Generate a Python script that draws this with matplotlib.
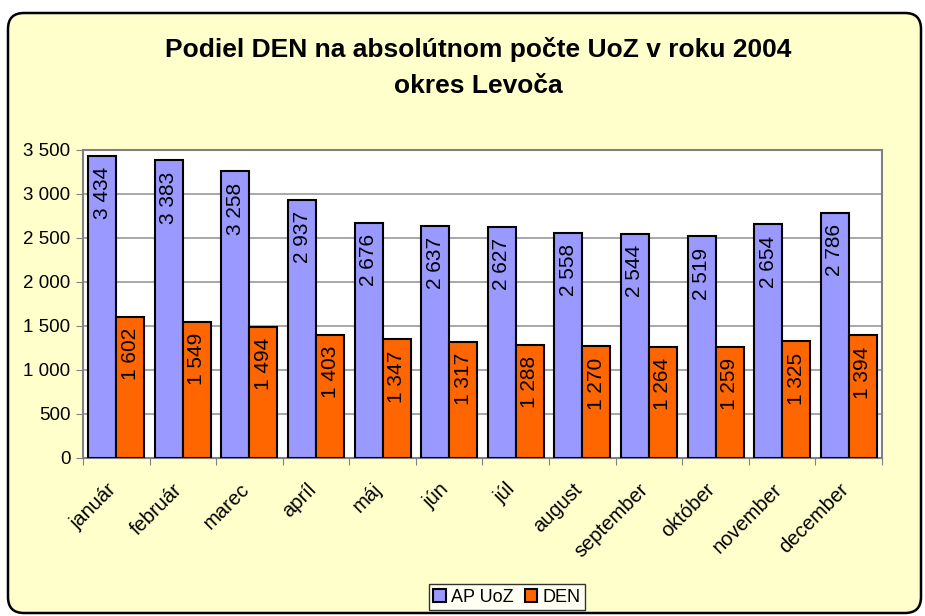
import matplotlib.pyplot as plt
from matplotlib.patches import FancyBboxPatch, Patch
from matplotlib.transforms import ScaledTranslation

plt.rcParams['font.family'] = ['Liberation Sans', 'DejaVu Sans']

# data
months = ['január', 'február', 'marec', 'apríl', 'máj', 'jún', 'júl', 'august',
          'september', 'október', 'november', 'december']
ap_uoz = [3434, 3383, 3258, 2937, 2676, 2637, 2627, 2558, 2544, 2519, 2654, 2786]
den = [1602, 1549, 1494, 1403, 1347, 1317, 1288, 1270, 1264, 1259, 1325, 1394]

blue = '#9999FF'
orange = '#FF6600'
bg = '#FFFFCC'


def fmt(v):
    return f'{v:,}'.replace(',', ' ')


fig = plt.figure(figsize=(9.25, 6.16), dpi=100, facecolor='white')

# rounded yellow chart area, behind the axes
box = FancyBboxPatch((8, 3), 913, 600, boxstyle='round,pad=0,rounding_size=16',
                     transform=None, facecolor=bg, edgecolor='black', linewidth=1.8,
                     zorder=-5)
fig.patches.append(box)

W, H = 925, 616
ax = fig.add_axes([83 / W, (H - 458) / H, (882 - 83) / W, (458 - 150) / H])
ax.set_facecolor('white')

x = list(range(len(months)))
bw = 0.42
ax.bar([i - bw / 2 for i in x], ap_uoz, width=bw, color=blue, edgecolor='black',
       linewidth=1.5, label='AP UoZ', zorder=3)
ax.bar([i + bw / 2 for i in x], den, width=bw, color=orange, edgecolor='black',
       linewidth=1.5, label='DEN', zorder=3)

for i in x:
    ax.annotate(fmt(ap_uoz[i]), (i - bw / 2, ap_uoz[i]), xytext=(0, -8),
                textcoords='offset points', rotation=90, ha='center', va='top',
                fontsize=15, zorder=4)
    ax.annotate(fmt(den[i]), (i + bw / 2, den[i]), xytext=(0, -8),
                textcoords='offset points', rotation=90, ha='center', va='top',
                fontsize=15, zorder=4)

ax.set_xlim(-0.5, len(months) - 0.5)
ax.set_ylim(0, 3500)
yt = list(range(0, 3501, 500))
ax.set_yticks(yt)
ax.set_yticklabels([fmt(v) for v in yt], fontsize=13.5)
ax.yaxis.grid(True, color='#999999', linewidth=1.2, zorder=0)
ax.set_axisbelow(True)
ax.tick_params(axis='y', length=5, color='#808080', pad=4)

ax.set_xticks([i - 0.5 for i in x] + [len(months) - 0.5])
ax.set_xticklabels([])
ax.tick_params(axis='x', length=5, color='#808080')
ax.set_xticks(x, minor=True)
ax.set_xticklabels(months, minor=True, rotation=45, ha='right',
                   rotation_mode='anchor', fontsize=14.5)
ax.tick_params(axis='x', which='minor', length=0, pad=12)
shift = ScaledTranslation(-0.10, -0.05, fig.dpi_scale_trans)
for lab in ax.get_xticklabels(minor=True):
    lab.set_transform(lab.get_transform() + shift)

for s in ax.spines.values():
    s.set_color('#808080')
    s.set_linewidth(1.5)

fig.text(478 / W, 1 - 50 / H, 'Podiel DEN na absolútnom počte UoZ v roku 2004',
         ha='center', va='center', fontsize=19, fontweight='bold')
fig.text(478 / W, 1 - 86 / H, 'okres Levoča', ha='center', va='center',
         fontsize=19, fontweight='bold')

handles = [Patch(facecolor=blue, edgecolor='black', linewidth=1.5, label='AP UoZ'),
           Patch(facecolor=orange, edgecolor='black', linewidth=1.5, label='DEN')]
fig.legend(handles=handles, loc='center', bbox_to_anchor=(507 / W, 1 - 597 / H), ncol=2,
           fontsize=13, frameon=True, fancybox=False, edgecolor='black',
           handlelength=0.7, handleheight=0.7, handletextpad=0.3, columnspacing=0.6,
           borderpad=0.25, borderaxespad=0)

fig.savefig('out.png', dpi=100, facecolor='white')
